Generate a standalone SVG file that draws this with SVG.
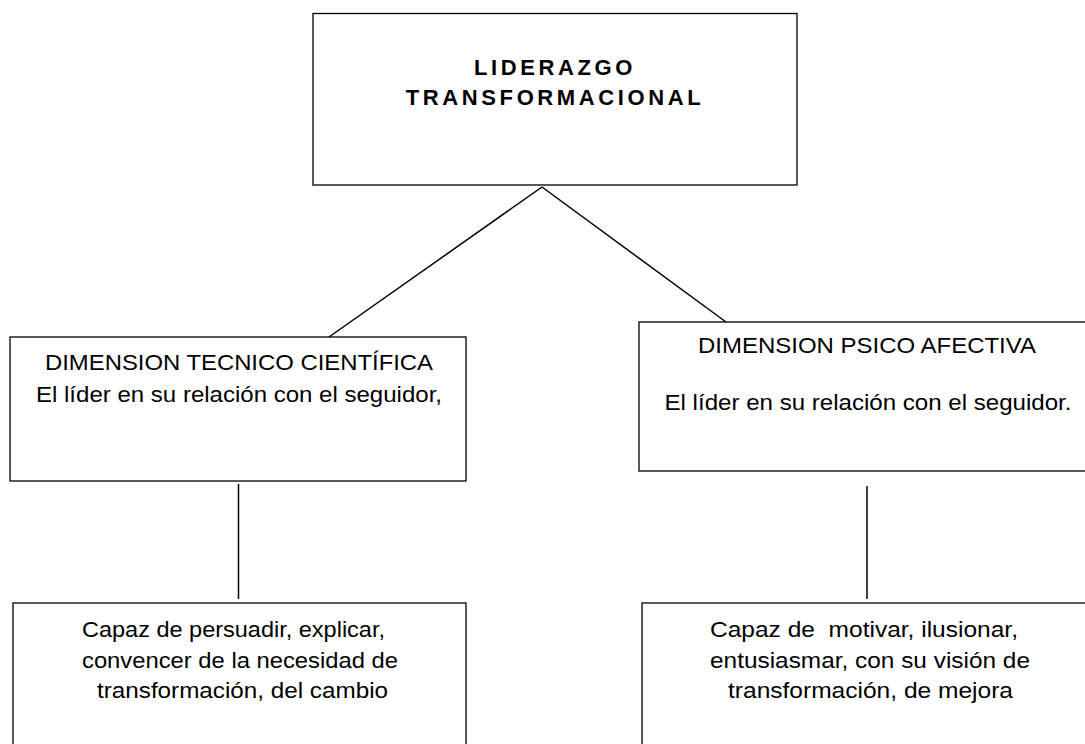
<svg xmlns="http://www.w3.org/2000/svg" width="1085" height="744" viewBox="0 0 1085 744">
  <style>
    .box { fill: #ffffff; stroke: #000000; stroke-width: 1.3; }
    .conn { stroke: #000000; stroke-width: 1.5; fill: none; }
    .t { font-family: "Liberation Sans", Arial, sans-serif; font-size: 22px; fill: #000000; text-anchor: middle; }
    .title { font-family: "Liberation Sans", Arial, sans-serif; font-size: 22px; font-weight: bold; letter-spacing: 3.6px; fill: #000000; text-anchor: middle; }
  </style>
  <rect width="1085" height="744" fill="#ffffff"/>
  <g id="connectors">
    <line class="conn" x1="542" y1="187" x2="329" y2="337"/>
    <line class="conn" x1="542" y1="187" x2="726" y2="322"/>
    <line class="conn" x1="238.5" y1="484" x2="238.5" y2="599"/>
    <line class="conn" x1="867" y1="486" x2="867" y2="599"/>
  </g>
  <g id="node-top">
    <rect class="box" x="313" y="13.5" width="484" height="171.5"/>
    <text class="title" x="555" y="75">LIDERAZGO</text>
    <text class="title" x="555" y="105">TRANSFORMACIONAL</text>
  </g>
  <g id="node-tecnico">
    <rect class="box" x="10" y="337" width="456" height="144"/>
    <text class="t" x="239" y="370" textLength="388" lengthAdjust="spacingAndGlyphs">DIMENSION TECNICO CIENTÍFICA</text>
    <text class="t" x="239" y="402" textLength="406" lengthAdjust="spacingAndGlyphs">El líder en su relación con el seguidor,</text>
  </g>
  <g id="node-psico">
    <rect class="box" x="639" y="322" width="460" height="149"/>
    <text class="t" x="867" y="353" textLength="338" lengthAdjust="spacingAndGlyphs">DIMENSION PSICO AFECTIVA</text>
    <text class="t" x="868" y="410" textLength="407" lengthAdjust="spacingAndGlyphs">El líder en su relación con el seguidor.</text>
  </g>
  <g id="node-persuadir">
    <rect class="box" x="13" y="603" width="453" height="160"/>
    <text class="t" x="233.5" y="637" textLength="303" lengthAdjust="spacingAndGlyphs">Capaz de persuadir, explicar,</text>
    <text class="t" x="240" y="668" textLength="316" lengthAdjust="spacingAndGlyphs">convencer de la necesidad de</text>
    <text class="t" x="242.5" y="698" textLength="291" lengthAdjust="spacingAndGlyphs">transformación, del cambio</text>
  </g>
  <g id="node-motivar">
    <rect class="box" x="642" y="603" width="460" height="160"/>
    <text class="t" x="864" y="637" xml:space="preserve" textLength="308" lengthAdjust="spacingAndGlyphs">Capaz de  motivar, ilusionar,</text>
    <text class="t" x="870" y="668" textLength="320" lengthAdjust="spacingAndGlyphs">entusiasmar, con su visión de</text>
    <text class="t" x="870.5" y="698" textLength="285" lengthAdjust="spacingAndGlyphs">transformación, de mejora</text>
  </g>
</svg>
